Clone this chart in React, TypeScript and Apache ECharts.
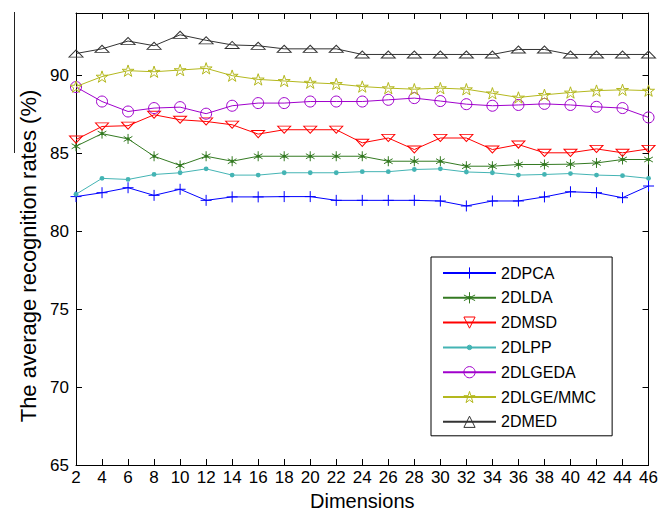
import React, { useEffect, useRef } from "react";
import * as echarts from "echarts";

const dims = [2, 4, 6, 8, 10, 12, 14, 16, 18, 20, 22, 24, 26, 28, 30, 32, 34, 36, 38, 40, 42, 44, 46];

const pca2d = [82.22, 82.47, 82.79, 82.3, 82.69, 81.98, 82.2, 82.2, 82.22, 82.22, 81.98, 81.98, 81.98, 81.98, 81.94, 81.62, 81.94, 81.94, 82.2, 82.53, 82.47, 82.15, 82.9];
const lda2d = [85.45, 86.26, 85.92, 84.81, 84.22, 84.81, 84.49, 84.81, 84.81, 84.81, 84.81, 84.81, 84.49, 84.49, 84.49, 84.17, 84.17, 84.28, 84.28, 84.3, 84.38, 84.6, 84.6];
const msd2d = [85.88, 86.72, 86.77, 87.47, 87.15, 87.04, 86.83, 86.23, 86.51, 86.51, 86.51, 85.67, 85.98, 85.24, 85.98, 85.98, 85.24, 85.56, 85.03, 85.03, 85.28, 85.03, 85.28];
const lpp2d = [82.37, 83.39, 83.32, 83.64, 83.75, 84.0, 83.6, 83.6, 83.75, 83.75, 83.75, 83.82, 83.82, 83.96, 84.0, 83.8, 83.75, 83.6, 83.64, 83.7, 83.6, 83.56, 83.39];
const lgeda2d = [89.25, 88.32, 87.68, 87.9, 87.96, 87.54, 88.05, 88.22, 88.22, 88.32, 88.32, 88.32, 88.43, 88.54, 88.35, 88.15, 88.05, 88.1, 88.17, 88.1, 87.98, 87.9, 87.3];
const lgeMmc2d = [89.28, 89.92, 90.3, 90.23, 90.34, 90.45, 89.98, 89.74, 89.64, 89.53, 89.45, 89.28, 89.18, 89.11, 89.18, 89.11, 88.85, 88.58, 88.75, 88.9, 89.02, 89.07, 89.02];
const med2d = [91.4, 91.7, 92.2, 91.9, 92.6, 92.25, 91.95, 91.9, 91.7, 91.7, 91.7, 91.34, 91.34, 91.34, 91.34, 91.34, 91.34, 91.66, 91.66, 91.34, 91.34, 91.34, 91.34];

const seriesNames = ["2DPCA", "2DLDA", "2DMSD", "2DLPP", "2DLGEDA", "2DLGE/MMC", "2DMED"];
const seriesValues = [pca2d, lda2d, msd2d, lpp2d, lgeda2d, lgeMmc2d, med2d];

const FONT = "'Liberation Sans', Arial, Helvetica, sans-serif";

const SYM_PLUS = "path://M5,0L5,10M0,5L10,5";
const SYM_AST = "path://M5,0L5,10M0.67,2.5L9.33,7.5M0.67,7.5L9.33,2.5M4,4H6V6H4Z";
const SYM_TRI_DOWN = "path://M0,0L14,0L7,10Z";
const SYM_TRI_UP = "path://M7,0L14,10L0,10Z";
const SYM_STAR = "path://M5,0L6.123,3.455L9.755,3.455L6.816,5.59L7.939,9.045L5,6.91L2.061,9.045L3.184,5.59L0.245,3.455L3.877,3.455Z";
const SYM_DOT = "path://M0,0L0,0M10,10L10,10M3,5A2,2,0,1,1,7,5A2,2,0,1,1,3,5Z";

const styles = [
  { color: "#0000FF", symbol: SYM_PLUS, size: 11, fill: "#0000FF" },
  { color: "#347A22", symbol: SYM_AST, size: 10, fill: "#1F5A12" },
  { color: "#FF0000", symbol: SYM_TRI_DOWN, size: [13, 10], fill: "rgba(0,0,0,0)" },
  { color: "#44B4B4", symbol: SYM_DOT, size: 12, fill: "#44B4B4" },
  { color: "#A000CC", symbol: "circle", size: 11, fill: "rgba(0,0,0,0)" },
  { color: "#B4B81E", symbol: SYM_STAR, size: 12, fill: "rgba(0,0,0,0)" },
  { color: "#333333", symbol: SYM_TRI_UP, size: [14, 10], fill: "rgba(0,0,0,0)" },
];

export default function App() {
  const ref = useRef<HTMLDivElement>(null);
  useEffect(() => {
    if (!ref.current) return;
    const chart = echarts.init(ref.current, undefined, { renderer: "svg" });
    const series = seriesNames.map((name, i) => {
      const st = styles[i];
      return {
        name,
        type: "line",
        data: dims.map((d, j) => [d, seriesValues[i][j]]),
        symbol: st.symbol,
        symbolSize: st.size,
        symbolKeepAspect: true,
        showAllSymbol: true,
        lineStyle: { color: st.color, width: 1 },
        itemStyle: { color: st.fill, borderColor: st.color, borderWidth: i === 3 ? 0 : 1 },
        emphasis: { disabled: true },
        xAxisIndex: 0,
        yAxisIndex: 0,
      };
    });
    const commonTick = { show: true, inside: true, length: 6, lineStyle: { color: "#000", width: 1 } };
    const commonLine = { show: true, lineStyle: { color: "#000", width: 1 } };
    chart.setOption({
      animation: false,
      backgroundColor: "#fff",
      grid: { left: 76, right: 9, top: 13, bottom: 48, containLabel: false },
      xAxis: [
        {
          type: "value",
          min: 2,
          max: 46,
          interval: 2,
          axisLine: commonLine,
          axisTick: commonTick,
          splitLine: { show: false },
          axisLabel: { color: "#000", fontSize: 17, fontFamily: FONT, margin: 4 },
          name: "Dimensions",
          nameLocation: "middle",
          nameGap: 26,
          nameTextStyle: { color: "#000", fontSize: 20, fontFamily: FONT },
        },
        {
          type: "value",
          position: "top",
          min: 2,
          max: 46,
          interval: 2,
          axisLine: commonLine,
          axisTick: commonTick,
          splitLine: { show: false },
          axisLabel: { show: false },
        },
      ],
      yAxis: [
        {
          type: "value",
          min: 65,
          max: 94,
          interval: 5,
          axisLine: commonLine,
          axisTick: commonTick,
          splitLine: { show: false },
          axisLabel: { color: "#000", fontSize: 17, fontFamily: FONT, margin: 7, showMaxLabel: false },
          name: "The average recognition rates (%)",
          nameLocation: "middle",
          nameGap: 37,
          nameRotate: 90,
          nameTextStyle: { color: "#000", fontSize: 22, fontFamily: FONT, padding: [0, 34, 0, 0] },
        },
        {
          type: "value",
          position: "right",
          min: 65,
          max: 94,
          interval: 5,
          axisLine: commonLine,
          axisTick: commonTick,
          splitLine: { show: false },
          axisLabel: { show: false },
        },
      ],
      legend: {
        orient: "vertical",
        left: 431,
        top: 257,
        itemWidth: 53,
        itemHeight: 14,
        itemGap: 8.8,
        padding: [8, 16, 6, 11],
        borderColor: "#000",
        borderWidth: 1,
        backgroundColor: "#fff",
        textStyle: { color: "#000", fontSize: 16, fontFamily: FONT },
        itemStyle: { borderWidth: 1 },
        data: seriesNames,
      },
      graphic: [
        {
          type: "line",
          shape: { x1: 14.5, y1: 12, x2: 14.5, y2: 153 },
          style: { stroke: "#222", lineWidth: 1 },
          silent: true,
        },
      ],
      series,
    });
    return () => chart.dispose();
  }, []);
  return (
    <div
      ref={ref}
      style={{ position: "fixed", left: 0, top: 0, width: 661, height: 516, background: "#fff" }}
    />
  );
}
